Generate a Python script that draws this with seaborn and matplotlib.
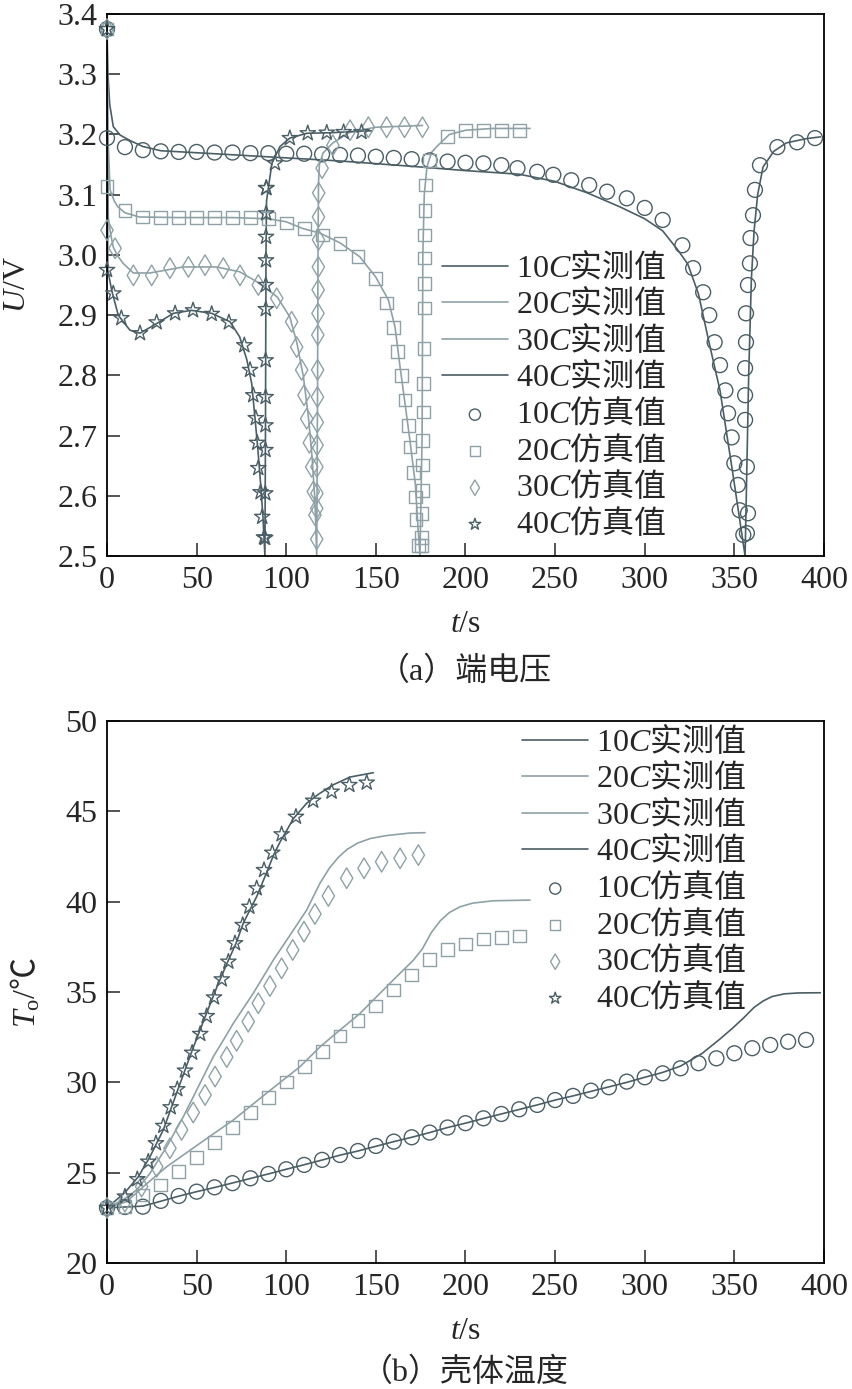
import matplotlib
matplotlib.use("Agg")
import matplotlib.pyplot as plt
import seaborn as sns

# ---------------- (a) terminal voltage U/V ----------------
t10_meas_a = [0, 0.5, 1.5, 3.5, 7.3, 12.8, 20, 30, 60, 95, 130, 175, 200, 230, 250, 268, 286, 300, 310, 318,
              324, 330, 336, 342, 349, 353, 356, 356.8, 358, 359.5, 361, 363, 366, 372, 379, 390, 398]
u10_meas_a = [3.375, 3.30, 3.25, 3.213, 3.199, 3.19, 3.18, 3.173, 3.168, 3.162, 3.156, 3.146, 3.14, 3.134,
              3.122, 3.103, 3.08, 3.06, 3.04, 3.01, 2.985, 2.935, 2.853, 2.775, 2.64, 2.56, 2.5, 2.62, 2.8,
              2.96, 3.04, 3.1, 3.146, 3.172, 3.186, 3.193, 3.196]
t20_meas_a = [0, 0.5, 1.7, 4, 6, 10, 18, 40, 70, 90, 100, 109, 119, 130, 141, 150, 157, 160.7, 163.5, 166,
              169, 172, 173.5, 174.6, 175.8, 176.2, 177, 178.5, 181, 184, 191, 200, 215, 236]
u20_meas_a = [3.375, 3.2, 3.108, 3.09, 3.08, 3.07, 3.063, 3.062, 3.062, 3.06, 3.055, 3.044, 3.036, 3.02,
              2.997, 2.963, 2.925, 2.88, 2.814, 2.759, 2.692, 2.62, 2.548, 2.5, 2.7, 3.0, 3.1, 3.146, 3.17,
              3.18, 3.2, 3.207, 3.21, 3.21]
t30_meas_a = [0, 0.7, 2, 3.5, 6, 9, 14.7, 24, 42.6, 61, 74, 85, 95, 102, 106, 109.6, 112.4, 114.4, 116, 117,
              117.5, 117.7, 118, 118.5, 120.5, 126, 135.6, 150, 176]
u30_meas_a = [3.375, 3.063, 3.035, 3.013, 2.998, 2.986, 2.97, 2.97, 2.98, 2.98, 2.972, 2.953, 2.93, 2.897,
              2.853, 2.797, 2.73, 2.664, 2.593, 2.5, 2.8, 3.0, 3.12, 3.15, 3.169, 3.186, 3.204, 3.212, 3.215]
t40_meas_a = [0, 0.4, 2.7, 6, 7, 12.8, 18.4, 27.7, 37, 47, 58.4, 68.6, 74, 78, 80.7, 82.5, 84.2, 85.7, 87,
              88.1, 88.4, 88.7, 89, 92, 96.5, 102, 111.5, 126, 145, 148]
u40_meas_a = [3.375, 2.975, 2.94, 2.903, 2.897, 2.875, 2.87, 2.886, 2.903, 2.908, 2.903, 2.889, 2.864, 2.826,
              2.787, 2.731, 2.676, 2.62, 2.565, 2.5, 2.7, 3.0, 3.09, 3.152, 3.18, 3.194, 3.202, 3.203, 3.206,
              3.206]

t10_sim_a = [0, 0, 10, 20, 30, 40, 50, 60, 70, 80, 90, 100, 110, 120, 130, 140, 150, 160, 170, 180, 190, 200,
             210, 220, 229, 240, 249, 259, 269, 279, 290, 300, 310, 321, 327, 332.6, 336, 339, 342, 345, 346.5,
             348.5, 350, 352, 353, 355, 357, 357.6, 357, 356, 356, 356, 356.5, 356.5, 357.6, 358.7, 359,
             360.4, 361.5, 364.3, 374, 385, 395]
u10_sim_a = [3.375, 3.194, 3.179, 3.174, 3.172, 3.171, 3.171, 3.170, 3.170, 3.169, 3.169, 3.168, 3.168, 3.167,
             3.166, 3.165, 3.163, 3.161, 3.159, 3.157, 3.155, 3.153, 3.152, 3.149, 3.144, 3.138, 3.133, 3.124,
             3.116, 3.105, 3.094, 3.078, 3.058, 3.016, 2.978, 2.938, 2.9, 2.855, 2.817, 2.775, 2.737, 2.697,
             2.654, 2.618, 2.576, 2.535, 2.538, 2.571, 2.648, 2.726, 2.767, 2.812, 2.855, 2.903, 2.95, 2.986,
             3.028, 3.066, 3.108, 3.149, 3.179, 3.187, 3.194]
t20_sim_a = [0, 0, 10, 20, 30, 40, 50, 60, 70, 80, 90, 100, 110, 120, 130, 140, 150, 156, 159.8, 162, 164.5,
             166.3, 168, 169, 170.9, 172, 172.4, 173.6, 175.3, 175.5, 175.7, 175.9, 176.0, 176.2, 176.4, 176.6,
             176.8, 177.0, 177.0, 177.0, 177.2, 177.4, 177.6, 180, 190, 200, 210, 220, 230]
u20_sim_a = [3.375, 3.113, 3.074, 3.063, 3.062, 3.062, 3.062, 3.062, 3.062, 3.062, 3.061, 3.053, 3.044, 3.033,
             3.019, 2.997, 2.961, 2.92, 2.88, 2.839, 2.8, 2.759, 2.717, 2.681, 2.639, 2.598, 2.56, 2.518,
             2.518, 2.531, 2.571, 2.609, 2.651, 2.692, 2.739, 2.787, 2.845, 2.912, 2.953, 2.995, 3.033, 3.074,
             3.116, 3.157, 3.196, 3.206, 3.207, 3.207, 3.207]
t30_sim_a = [0, 0, 4.5, 14.7, 24.9, 35.1, 45.4, 54.7, 64.9, 74.2, 84.4, 94.7, 103, 105.8, 108.6, 109.9, 111.4,
             112.9, 114.2, 115.1, 116, 117.0, 117.0, 117.1, 117.1, 117.2, 117.3, 117.4, 117.5, 117.6, 117.7,
             117.8, 117.9, 118.0, 118.0, 118.1, 120, 126, 135.6, 145.8, 156, 166, 176]
u30_sim_a = [3.375, 3.041, 3.011, 2.966, 2.966, 2.978, 2.98, 2.983, 2.978, 2.966, 2.95, 2.928, 2.889, 2.847,
             2.809, 2.767, 2.728, 2.688, 2.648, 2.607, 2.568, 2.528, 2.579, 2.604, 2.648, 2.684, 2.722, 2.764,
             2.809, 2.867, 2.903, 2.942, 2.98, 3.025, 3.063, 3.103, 3.144, 3.182, 3.207, 3.212, 3.212, 3.212,
             3.212]
t40_sim_a = [0, 0, 3.5, 8, 18.4, 27.7, 38, 48, 58.4, 68, 76.6, 79.8, 81.6, 83, 83.8, 84.4, 85.7, 86.6, 87.6,
             88.2, 88.3, 88.4, 88.4, 88.5, 88.5, 88.6, 88.6, 88.7, 88.7, 88.8, 88.8, 88.9, 93.7, 102, 112,
             122.6, 132, 142]
u40_sim_a = [3.375, 2.975, 2.936, 2.895, 2.87, 2.888, 2.903, 2.908, 2.902, 2.888, 2.85, 2.809, 2.767, 2.729,
             2.688, 2.646, 2.606, 2.565, 2.531, 2.53, 2.604, 2.676, 2.717, 2.764, 2.825, 2.91, 2.95, 2.991,
             3.03, 3.069, 3.111, 3.111, 3.152, 3.194, 3.202, 3.203, 3.204, 3.204]

# ---------------- (b) shell temperature To/℃ ----------------
t10_meas_b = [0, 10, 20, 30, 40, 50, 60, 70, 80, 90, 100, 110, 120, 130, 140, 150, 160, 170, 180, 190, 200,
              210, 220, 230, 240, 250, 260, 270, 280, 290, 300, 310, 320, 332, 342, 349, 355, 361, 366, 371,
              378, 386, 398]
T10_meas_b = [23.05, 23.1, 23.15, 23.42, 23.7, 23.95, 24.18, 24.43, 24.68, 24.93, 25.19, 25.44, 25.7, 25.97,
              26.2, 26.46, 26.72, 26.96, 27.22, 27.5, 27.74, 28.0, 28.25, 28.5, 28.75, 29.02, 29.25, 29.5,
              29.75, 30.0, 30.28, 30.55, 30.9, 31.6, 32.4, 33.0, 33.55, 34.15, 34.5, 34.75, 34.9, 34.95, 34.96]
t20_meas_b = [0, 11, 20.3, 33.3, 51.9, 70.5, 89, 107.7, 119, 130, 141, 154, 163.5, 171, 176, 181, 186, 191,
              197, 204, 215.5, 236]
T20_meas_b = [23.05, 23.4, 24.23, 25.33, 26.63, 27.92, 29.4, 30.87, 31.98, 32.9, 33.8, 35.1, 36.04, 36.77,
              37.4, 38.3, 38.95, 39.4, 39.72, 39.92, 40.05, 40.09]
t30_meas_b = [0, 9, 16.6, 24, 33.3, 42.6, 51.9, 59.3, 65, 70.5, 81.6, 92.8, 104, 111.4, 118.8, 124, 129,
              134, 140, 147, 156, 169, 177.4]
T30_meas_b = [23.05, 23.5, 24.05, 24.97, 26.44, 28.1, 29.95, 31.42, 32.35, 33.27, 34.93, 36.77, 38.43, 39.54,
              41.02, 41.85, 42.45, 42.9, 43.25, 43.5, 43.66, 43.8, 43.82]
t40_meas_b = [0, 10, 17.5, 24, 31.4, 38.8, 48, 55.6, 61, 67, 72, 76, 80, 83.5, 89, 93, 96.5, 100, 104, 111.4,
              118, 126, 135.6, 148.6]
T40_meas_b = [23.05, 23.9, 24.78, 25.89, 27.37, 29.4, 31.9, 33.84, 35.2, 36.6, 37.7, 38.8, 39.6, 40.28, 41.6,
              42.6, 43.3, 43.9, 44.6, 45.45, 45.95, 46.46, 46.9, 47.14]

t10_sim_b = [0, 10, 20, 30, 40, 50, 60, 70, 80, 90, 100, 110, 120, 130, 140, 150, 160, 170, 180, 190, 200,
             210, 220, 230, 240, 250, 260, 270, 280, 290, 300, 310, 320, 330, 340, 350, 360, 370, 380, 390]
T10_sim_b = [23.05, 23.1, 23.12, 23.44, 23.71, 23.95, 24.19, 24.42, 24.69, 24.93, 25.19, 25.43, 25.71, 25.98,
             26.2, 26.48, 26.72, 26.96, 27.22, 27.5, 27.74, 28.01, 28.25, 28.51, 28.75, 29.02, 29.25, 29.54,
             29.73, 30.04, 30.28, 30.5, 30.78, 31.06, 31.33, 31.61, 31.89, 32.07, 32.25, 32.35]
t20_sim_b = [0, 10, 20, 30, 40, 50, 60, 70, 80, 90, 100, 110, 120, 130, 140, 150, 160, 170, 180, 190, 200,
             210, 220, 230]
T20_sim_b = [23.05, 23.12, 23.77, 24.32, 25.06, 25.85, 26.66, 27.51, 28.34, 29.17, 30.02, 30.87, 31.7, 32.57,
             33.42, 34.23, 35.11, 35.94, 36.79, 37.36, 37.66, 37.94, 38.03, 38.1]
t30_sim_b = [0, 10, 19.3, 27.7, 35.1, 41.6, 48.1, 54.7, 60.3, 66.8, 72.3, 78.8, 84.4, 90.9, 97.4, 103.6, 109.9,
             116, 123.5, 133.7, 143.4, 153.2, 163.5, 173.7]
T30_sim_b = [23.05, 23.4, 24.23, 25.33, 26.35, 27.37, 28.33, 29.3, 30.32, 31.4, 32.3, 33.36, 34.38, 35.33,
             36.31, 37.33, 38.34, 39.32, 40.32, 41.3, 41.85, 42.21, 42.4, 42.58]
t40_sim_b = [0, 10, 16.9, 23, 27.3, 31.4, 35.5, 39.2, 43.5, 47.5, 52, 55.6, 59.7, 64, 67.7, 71.4, 75.7, 79.4,
             83.5, 87.6, 92.2, 97.4, 105.4, 115, 125.3, 135.2, 144.9]
T40_sim_b = [23.05, 23.68, 24.64, 25.61, 26.63, 27.59, 28.62, 29.62, 30.65, 31.64, 32.68, 33.67, 34.7, 35.7,
             36.68, 37.7, 38.71, 39.72, 40.74, 41.75, 42.71, 43.73, 44.7, 45.59, 46.09, 46.46, 46.59]

rates = ["10", "20", "30", "40"]
dark = "#4b5e65"
light = "#8fa1a6"
colors = {"10": dark, "20": light, "30": light, "40": dark}
markers = {"10": "o", "20": "s", "30": "d", "40": "*"}
msizes = {"10": 115, "20": 85, "30": 110, "40": 135}

sns.set_style("ticks")
plt.rcParams["font.family"] = ["Liberation Serif", "Noto Sans CJK SC", "DejaVu Sans"]
plt.rcParams["mathtext.fontset"] = "custom"
plt.rcParams["mathtext.rm"] = "Liberation Serif"
plt.rcParams["mathtext.it"] = "Liberation Serif:italic"
plt.rcParams["mathtext.sf"] = "Noto Sans CJK SC"

FS = 23

fig = plt.figure(figsize=(8.52, 13.89), dpi=100)
ax_a = fig.add_axes([0.1256, 0.5997, 0.8415, 0.3902])
ax_b = fig.add_axes([0.1256, 0.0907, 0.8415, 0.3902])


def draw(ax, meas, sim):
    for r in rates:
        t, y = meas[r]
        sns.lineplot(x=t, y=y, color=colors[r], lw=1.2, estimator=None, sort=False,
                     label=r"$%s C\mathsf{实测值}$" % r, ax=ax)
    for r in rates:
        t, y = sim[r]
        sns.scatterplot(x=t, y=y, marker=markers[r], s=msizes[r], facecolor="none",
                        edgecolor=colors[r], linewidth=1.0, clip_on=False, zorder=3,
                        label=r"$%s C\mathsf{仿真值}$" % r, ax=ax)
    ax.set_xlim(0, 400)
    ax.set_xticks(range(0, 401, 50))
    ax.tick_params(direction="in", length=9.5, width=1.1, labelsize=FS, pad=7,
                   top=False, right=False)
    for s in ax.spines.values():
        s.set_linewidth(1.3)
        s.set_color("black")
    ax.set_xlabel(r"$t$/s", fontsize=FS)
    ax.xaxis.set_label_coords(0.5, -0.1)


draw(ax_a,
     {"10": (t10_meas_a, u10_meas_a), "20": (t20_meas_a, u20_meas_a),
      "30": (t30_meas_a, u30_meas_a), "40": (t40_meas_a, u40_meas_a)},
     {"10": (t10_sim_a, u10_sim_a), "20": (t20_sim_a, u20_sim_a),
      "30": (t30_sim_a, u30_sim_a), "40": (t40_sim_a, u40_sim_a)})
ax_a.set_ylim(2.5, 3.4)
ax_a.set_yticks([2.5 + 0.1 * i for i in range(10)])
ax_a.set_yticklabels(["%.1f" % (2.5 + 0.1 * i) for i in range(10)])
ax_a.set_ylabel(r"$U$/V", fontsize=FS)
ax_a.yaxis.set_label_coords(-0.105, 0.5)
ax_a.legend(loc="upper left", bbox_to_anchor=(0.467, 0.565), frameon=False, fontsize=FS,
            handlelength=2.07, handletextpad=0.25, labelspacing=0.08, borderpad=0,
            borderaxespad=0, markerscale=0.75, scatterpoints=1)

draw(ax_b,
     {"10": (t10_meas_b, T10_meas_b), "20": (t20_meas_b, T20_meas_b),
      "30": (t30_meas_b, T30_meas_b), "40": (t40_meas_b, T40_meas_b)},
     {"10": (t10_sim_b, T10_sim_b), "20": (t20_sim_b, T20_sim_b),
      "30": (t30_sim_b, T30_sim_b), "40": (t40_sim_b, T40_sim_b)})
ax_b.set_ylim(20, 50)
ax_b.set_yticks(range(20, 51, 5))
ax_b.set_ylabel(r"$T_\mathrm{o}/\mathsf{℃}$", fontsize=FS)
ax_b.yaxis.set_label_coords(-0.09, 0.5)
ax_b.legend(loc="upper left", bbox_to_anchor=(0.579, 0.995), frameon=False, fontsize=FS,
            handlelength=2.07, handletextpad=0.25, labelspacing=0.08, borderpad=0,
            borderaxespad=0, markerscale=0.75, scatterpoints=1)

fig.text(0.5458, 1 - 672 / 1389, "（a）端电压", ha="center", va="center", fontsize=FS)
fig.text(0.5458, 1 - 1373 / 1389, "（b）壳体温度", ha="center", va="center", fontsize=FS)

fig.savefig("out.png", dpi=100)
